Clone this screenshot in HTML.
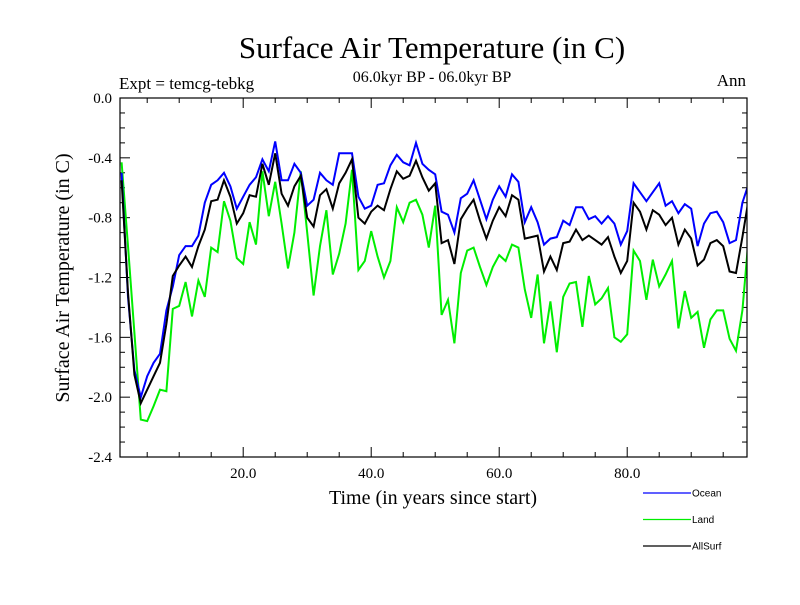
<!DOCTYPE html>
<html><head><meta charset="utf-8"><style>
body{margin:0;background:#fff}
svg text{font-family:"Liberation Serif",serif}
</style></head><body>
<svg id="chart" width="800" height="600" xmlns="http://www.w3.org/2000/svg">
<rect width="800" height="600" fill="#fff"/>
<text x="432" y="58" font-size="31" text-anchor="middle">Surface Air Temperature (in C)</text>
<text x="119" y="89" font-size="17">Expt = temcg-tebkg</text>
<text x="432" y="82" font-size="16" text-anchor="middle">06.0kyr BP - 06.0kyr BP</text>
<text x="746" y="86" font-size="17" text-anchor="end">Ann</text>
<text x="433" y="504" font-size="20" text-anchor="middle">Time (in years since start)</text>
<text transform="translate(69,278) rotate(-90)" font-size="20" text-anchor="middle">Surface Air Temperature (in C)</text>
<defs><clipPath id="plotclip"><rect x="120" y="98" width="627" height="359"/></clipPath></defs>
<g id="axes"></g>
<g id="series" clip-path="url(#plotclip)"></g>
<rect x="120" y="98" width="627" height="359" fill="none" stroke="#000" stroke-width="1.2"/>
<g id="legend"></g>
</svg>
<script>
const years = Array.from({length:99},(_,i)=>i+1);
const ocean = [-0.50,-1.33,-1.82,-2.00,-1.86,-1.77,-1.71,-1.42,-1.26,-1.05,-0.99,-0.99,-0.92,-0.70,-0.58,-0.55,-0.50,-0.59,-0.74,-0.66,-0.58,-0.53,-0.41,-0.49,-0.29,-0.55,-0.55,-0.44,-0.50,-0.72,-0.68,-0.50,-0.55,-0.58,-0.37,-0.37,-0.37,-0.66,-0.74,-0.72,-0.58,-0.57,-0.45,-0.38,-0.43,-0.45,-0.30,-0.44,-0.48,-0.51,-0.76,-0.78,-0.90,-0.67,-0.64,-0.55,-0.68,-0.81,-0.68,-0.59,-0.66,-0.51,-0.56,-0.83,-0.73,-0.83,-0.98,-0.94,-0.93,-0.82,-0.85,-0.73,-0.73,-0.81,-0.79,-0.84,-0.79,-0.84,-0.98,-0.89,-0.57,-0.63,-0.69,-0.63,-0.57,-0.72,-0.69,-0.77,-0.71,-0.74,-0.99,-0.84,-0.77,-0.76,-0.83,-0.97,-0.95,-0.70,-0.57];
const land = [-0.43,-0.99,-1.57,-2.15,-2.16,-2.06,-1.95,-1.96,-1.41,-1.39,-1.23,-1.46,-1.22,-1.33,-1.00,-1.03,-0.69,-0.82,-1.07,-1.11,-0.83,-0.98,-0.49,-0.79,-0.56,-0.84,-1.14,-0.90,-0.49,-0.90,-1.32,-0.99,-0.75,-1.18,-1.04,-0.84,-0.48,-1.15,-1.09,-0.89,-1.06,-1.20,-1.09,-0.73,-0.83,-0.70,-0.68,-0.78,-1.00,-0.72,-1.45,-1.35,-1.64,-1.17,-1.02,-1.00,-1.13,-1.25,-1.13,-1.05,-1.09,-0.98,-1.00,-1.28,-1.47,-1.18,-1.64,-1.36,-1.70,-1.33,-1.24,-1.23,-1.53,-1.19,-1.38,-1.34,-1.27,-1.60,-1.63,-1.58,-1.02,-1.09,-1.35,-1.08,-1.26,-1.18,-1.09,-1.54,-1.29,-1.47,-1.43,-1.67,-1.48,-1.42,-1.42,-1.61,-1.69,-1.42,-0.92];
const allsurf = [-0.55,-1.30,-1.85,-2.04,-1.95,-1.86,-1.77,-1.51,-1.19,-1.12,-1.06,-1.13,-0.99,-0.88,-0.69,-0.68,-0.55,-0.66,-0.84,-0.77,-0.65,-0.66,-0.44,-0.58,-0.37,-0.64,-0.72,-0.59,-0.52,-0.80,-0.86,-0.65,-0.61,-0.74,-0.57,-0.50,-0.41,-0.80,-0.84,-0.76,-0.72,-0.75,-0.61,-0.49,-0.54,-0.52,-0.42,-0.53,-0.62,-0.57,-0.97,-0.95,-1.11,-0.81,-0.74,-0.68,-0.82,-0.94,-0.82,-0.73,-0.79,-0.65,-0.68,-0.94,-0.93,-0.92,-1.16,-1.06,-1.15,-0.97,-0.96,-0.88,-0.95,-0.92,-0.95,-0.98,-0.93,-1.06,-1.17,-1.09,-0.70,-0.76,-0.88,-0.75,-0.78,-0.85,-0.80,-0.98,-0.88,-0.94,-1.12,-1.08,-0.97,-0.95,-0.99,-1.16,-1.17,-0.93,-0.67];
const yTicks = [0.0,-0.4,-0.8,-1.2,-1.6,-2.0,-2.4];
const yTickLabels = ["0.0","-0.4","-0.8","-1.2","-1.6","-2.0","-2.4"];
const xTicks = [20,40,60,80];
const xTickLabels = ["20.0","40.0","60.0","80.0"];

const NS="http://www.w3.org/2000/svg";
const X0=120,X1=747,Y0=98,Y1=457;
function xs(v){return 121.6+(v-1)*6.4;}
function ys(v){return Y0+(0-v)/2.4*(Y1-Y0);}
function mk(tag,attrs,parent){const e=document.createElementNS(NS,tag);for(const k in attrs)e.setAttribute(k,attrs[k]);parent.appendChild(e);return e;}
const axes=document.getElementById('axes');
// y ticks
for(let v=0;v>=-2.4001;v-=0.1){
  const y=ys(v);const major=Math.abs(Math.round(v*10)%4)===0;const L=major?10:5;
  const t1=mk('line',{x1:X0,x2:X0+L,y1:y,y2:y,stroke:'#000','stroke-width':1},axes);
  
  
  const t2=mk('line',{x1:X1,x2:X1-L,y1:y,y2:y,stroke:'#000','stroke-width':1},axes);
  
  
}
yTicks.forEach((v,i)=>{
  const t=mk('text',{x:X0-8,y:ys(v)+5,'font-size':15,'text-anchor':'end'},axes);
  t.textContent=yTickLabels[i];
  
  
});
for(let v=5;v<=95;v+=5){
  const x=xs(v);const major=v%20===0;const L=major?10:5;
  const t1=mk('line',{x1:x,x2:x,y1:Y1,y2:Y1-L,stroke:'#000','stroke-width':1},axes);
  
  
  const t2=mk('line',{x1:x,x2:x,y1:Y0,y2:Y0+L,stroke:'#000','stroke-width':1},axes);
  
  
}
xTicks.forEach((v,i)=>{
  const t=mk('text',{x:xs(v),y:Y1+21,'font-size':15,'text-anchor':'middle'},axes);
  t.textContent=xTickLabels[i];
  
  
});
const ser=document.getElementById('series');
function line(vals,color,name){
  const d=vals.map((v,i)=>(i?'L':'M')+xs(years[i]).toFixed(1)+','+ys(v).toFixed(1)).join('');
  const p=mk('path',{d:d,fill:'none',stroke:color,'stroke-width':2,'stroke-linejoin':'miter'},ser);
  
  
}
line(land,'#00ee00','land-line');
line(ocean,'#0000ff','ocean-line');
line(allsurf,'#000000','allsurf-line');
const leg=document.getElementById('legend');
[['Ocean','#0000ff',493],['Land','#00ee00',519.5],['AllSurf','#000',546]].forEach(([n,c,y])=>{
  const l=mk('line',{x1:643,x2:691,y1:y,y2:y,stroke:c,'stroke-width':1.2},leg);
  
  
  const t=mk('text',{x:692,y:y+3.5,'font-size':10,style:'font-family:"Liberation Sans",sans-serif'},leg);
  t.textContent=n;
  
  
});
</script>
</body></html>
